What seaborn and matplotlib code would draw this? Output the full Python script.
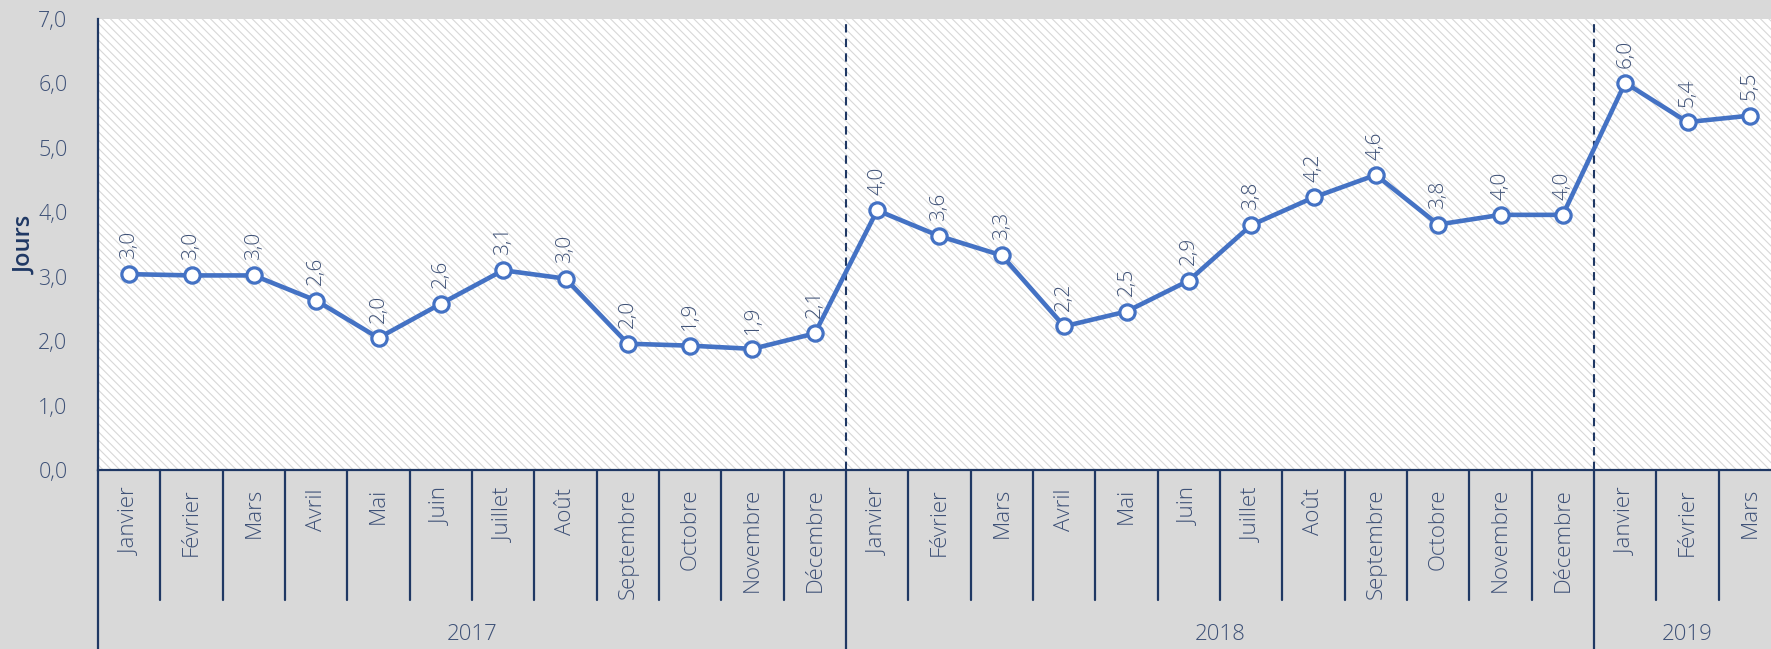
import numpy as np
import pandas as pd
import matplotlib
matplotlib.use("Agg")
import matplotlib.pyplot as plt
import matplotlib.transforms as mtransforms
from matplotlib.patches import Rectangle
import seaborn as sns

# data
months = ["Janvier", "Février", "Mars", "Avril", "Mai", "Juin", "Juillet",
          "Août", "Septembre", "Octobre", "Novembre", "Décembre"]
years = ["2017", "2018", "2019"]
months_per_year = [12, 12, 3]
jours = [3.04, 3.02, 3.02, 2.63, 2.05, 2.58, 3.10, 2.97, 1.96, 1.93, 1.88, 2.12,
         4.03, 3.63, 3.33, 2.23, 2.46, 2.94, 3.80, 4.23, 4.58, 3.81, 3.96, 3.96,
         6.01, 5.40, 5.50]

labels_x = [m for n in months_per_year for m in months[:n]]
df = pd.DataFrame({"pos": np.arange(len(jours)), "jours": jours, "mois": labels_x})

BG = "#D9D9D9"
NAVY = "#1F3864"
TXT = "#3E5177"
BLUE = "#4472C4"

sns.set_theme(style="white")
plt.rcParams["font.family"] = ["Open Sans", "DejaVu Sans"]
plt.rcParams["hatch.linewidth"] = 0.8

fig = plt.figure(figsize=(17.71, 6.49), dpi=100, facecolor=BG)
# plot area slightly wider than the image, like the source crop
ax = fig.add_axes([98 / 1771, 179 / 649, 1683 / 1771, 451 / 649])
ax.set_facecolor("white")

# hatched background
ax.add_patch(Rectangle((0, 0), 1, 1, transform=ax.transAxes, facecolor="white",
                       edgecolor="#D8D8D8", linewidth=0, hatch="\\\\\\\\", zorder=0))

sns.lineplot(data=df, x="pos", y="jours", ax=ax, color=BLUE, linewidth=3.3,
             marker="o", markersize=11, markerfacecolor="white",
             markeredgecolor=BLUE, markeredgewidth=2.3, zorder=5)

for x, y in zip(df["pos"], df["jours"]):
    ax.annotate(f"{y:.1f}".replace(".", ","), (x, y), xytext=(0, 11),
                textcoords="offset points", rotation=90, ha="center", va="bottom",
                fontsize=15, color=TXT, fontweight="light", zorder=6)

n = len(jours)
ax.set_xlim(-0.5, n - 0.5)
ax.set_ylim(0, 7)
ax.set_yticks(np.arange(0, 8, 1))
ax.set_yticklabels([f"{v:.1f}".replace(".", ",") for v in np.arange(0, 8, 1)],
                   fontsize=15.5, color=TXT, fontweight="light")
ax.tick_params(axis="y", length=0, pad=22)
ax.set_xticks([])
ax.set_xlabel("")
ax.set_ylabel("Jours", fontsize=17, color=NAVY, fontweight="semibold")
ax.yaxis.set_label_coords(-0.036, 0.5)

for s in ["top", "right"]:
    ax.spines[s].set_visible(False)
ax.spines["left"].set_color(NAVY)
ax.spines["left"].set_linewidth(1.6)
ax.spines["bottom"].set_color(NAVY)
ax.spines["bottom"].set_linewidth(1.6)

# year boundaries
bounds = np.cumsum([0] + months_per_year) - 0.5
for b in bounds[1:-1]:
    ax.axvline(b, color=NAVY, linewidth=1.5, linestyle=(0, (4, 3)), zorder=3)

# multi-level category axis
trans = mtransforms.blended_transform_factory(ax.transData, ax.transAxes)
for i in range(1, n):
    if i - 0.5 in bounds:
        continue
    ax.plot([i - 0.5, i - 0.5], [0, -0.288], transform=trans, color=NAVY,
            linewidth=1.6, clip_on=False)
for b in bounds[:-1]:
    ax.plot([b, b], [0, -0.45], transform=trans, color=NAVY,
            linewidth=1.6, clip_on=False)

for x, m in zip(df["pos"], df["mois"]):
    ax.text(x, -0.04, m, transform=trans, rotation=90, ha="center", va="top",
            fontsize=16, color=TXT, fontweight="light")

for y0, cnt, yr in zip(bounds[:-1], months_per_year, years):
    ax.text(y0 + cnt / 2, -0.365, yr, transform=trans, ha="center", va="center",
            fontsize=16, color=TXT, fontweight="light")

fig.savefig("out.png", dpi=100, facecolor=BG)
